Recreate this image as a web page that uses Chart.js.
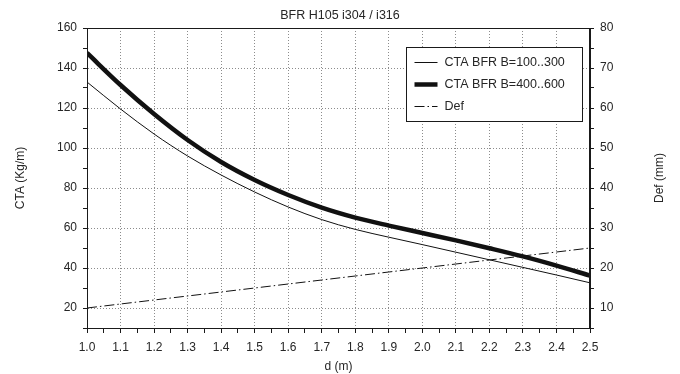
<!DOCTYPE html>
<html>
<head>
<meta charset="utf-8">
<script src="https://cdn.jsdelivr.net/npm/chart.js@4/dist/chart.umd.min.js"></script>
<style>
  html, body { margin: 0; padding: 0; background: #fff; }
  #wrap { width: 680px; height: 374px; position: relative; }
</style>
</head>
<body>
<div id="wrap"><canvas id="chart"></canvas></div>
<script>
// d (m) along the bottom
const dValues = [1.0, 1.1, 1.2, 1.3, 1.4, 1.5, 1.6, 1.7, 1.8, 1.9, 2.0, 2.1, 2.2, 2.3, 2.4, 2.5];
// CTA (Kg/m)
const ctaSmall = [133, 119.5, 107, 96, 86.5, 78, 70.5, 64.2, 59.3, 55.4, 51.7, 47.9, 44.1, 40.3, 36.5, 32.6];
const ctaLarge = [147.5, 131.5, 117, 104, 93, 84, 76.5, 70.2, 65.2, 61.2, 57.5, 53.8, 49.9, 45.8, 41.2, 36.2];
// Def (mm), right axis
const defValues = [10, 11, 12, 13, 14, 15, 16, 17, 18, 19, 20, 21, 22, 23, 24, 25];

const seriesLabels = ['CTA BFR B=100..300', 'CTA BFR B=400..600', 'Def'];
const chartTitle = 'BFR H105 i304 / i316';

const FONT = '"Liberation Sans", Arial, Helvetica, sans-serif';
const TXT = '#262626';
const GRID = '#8c8c8c';

const toPts = (ys) => ys.map((y, i) => ({ x: dValues[i], y: y }));

// box around the plot + legend inside the upper right corner
const framePlugin = {
    id: 'frame',
    afterDraw(chart) {
        const { ctx, chartArea: a } = chart;
        ctx.save();
        ctx.strokeStyle = '#1a1a1a';
        ctx.lineWidth = 1;
        ctx.strokeRect(Math.round(a.left) + 0.5, Math.round(a.top) + 0.5,
            Math.round(a.right - a.left) - 1, Math.round(a.bottom - a.top));

        // legend
        const bw = 176, bh = 74;
        const bx = Math.round(a.right - 184) + 0.5, by = Math.round(a.top + 19) + 0.5;
        ctx.fillStyle = '#fff';
        ctx.fillRect(bx, by, bw, bh);
        ctx.strokeRect(bx, by, bw, bh);
        ctx.font = '12.5px ' + FONT;
        ctx.textBaseline = 'middle';
        chart.data.datasets.forEach((ds, i) => {
            const y = by + 15 + i * 22;
            ctx.beginPath();
            ctx.setLineDash(ds.borderDash || []);
            ctx.lineWidth = ds.borderWidth;
            ctx.strokeStyle = ds.borderColor;
            ctx.moveTo(bx + 8, y);
            ctx.lineTo(bx + 31, y);
            ctx.stroke();
            ctx.setLineDash([]);
            ctx.fillStyle = TXT;
            ctx.fillText(ds.label, bx + 38, y);
        });

        // right axis title, reading bottom to top like the left one
        ctx.translate(660, (a.top + a.bottom) / 2);
        ctx.rotate(-Math.PI / 2);
        ctx.textAlign = 'center';
        ctx.fillStyle = TXT;
        ctx.font = '12px ' + FONT;
        ctx.fillText('Def (mm)', 0, 0);
        ctx.restore();
    }
};

const ctx = document.getElementById('chart').getContext('2d');
new Chart(ctx, {
    type: 'line',
    data: {
        datasets: [
            { label: seriesLabels[0], data: toPts(ctaSmall), yAxisID: 'y', borderColor: '#111', borderWidth: 1, pointRadius: 0, cubicInterpolationMode: 'monotone' },
            { label: seriesLabels[1], data: toPts(ctaLarge), yAxisID: 'y', borderColor: '#111', borderWidth: 4.5, pointRadius: 0, cubicInterpolationMode: 'monotone' },
            { label: seriesLabels[2], data: toPts(defValues), yAxisID: 'y2', borderColor: '#111', borderWidth: 1, borderDash: [10, 3, 1.5, 3], pointRadius: 0 }
        ]
    },
    options: {
        responsive: true,
        maintainAspectRatio: false,
        animation: false,
        layout: { padding: { top: 0, right: 0, bottom: 0, left: 0 } },
        plugins: {
            legend: { display: false },
            tooltip: { enabled: false },
            title: {
                display: true,
                text: chartTitle,
                color: TXT,
                font: { family: FONT, size: 12.5, weight: 'normal', lineHeight: 1.2 },
                padding: { top: 8, bottom: 5 }
            }
        },
        scales: {
            x: {
                type: 'linear',
                min: 1.0, max: 2.5,
                afterFit: (s) => { s.height = 46; },
                ticks: {
                    stepSize: 0.05, autoSkip: false, maxRotation: 0, padding: 7,
                    color: TXT, font: { family: FONT, size: 12 },
                    callback: (v) => Math.round(v * 100) % 10 === 0 ? v.toFixed(1) : ''
                },
                grid: {
                    color: (c) => {
                        const v = Math.round(c.tick.value * 100);
                        return (v % 10 === 0 && v > 100 && v < 250) ? GRID : 'transparent';
                    },
                    tickColor: '#1a1a1a', tickLength: 5, tickWidth: 1
                },
                border: { color: '#1a1a1a', dash: [1, 2] },
                title: { display: true, text: 'd (m)', color: TXT, font: { family: FONT, size: 12 }, padding: { top: 0, bottom: 0 } }
            },
            y: {
                position: 'left',
                min: 10, max: 160,
                afterFit: (s) => { s.width = 87; },
                ticks: {
                    stepSize: 10, autoSkip: false, padding: 6,
                    color: TXT, font: { family: FONT, size: 12 },
                    callback: (v) => v % 20 === 0 ? v : ''
                },
                grid: {
                    color: (c) => (c.tick.value % 20 === 0 && c.tick.value > 10 && c.tick.value < 160) ? GRID : 'transparent',
                    tickColor: '#1a1a1a', tickLength: 4, tickWidth: 1
                },
                border: { color: '#1a1a1a', dash: [1, 2] },
                title: { display: true, text: 'CTA (Kg/m)', color: TXT, font: { family: FONT, size: 12 }, padding: { top: 13, bottom: 0 } }
            },
            y2: {
                position: 'right',
                min: 5, max: 80,
                afterFit: (s) => { s.width = 90; },
                ticks: {
                    stepSize: 5, autoSkip: false, padding: 6,
                    color: TXT, font: { family: FONT, size: 12 },
                    callback: (v) => v % 10 === 0 ? v : ''
                },
                grid: { drawOnChartArea: false, tickColor: '#1a1a1a', tickLength: 4, tickWidth: 1 },
                border: { color: '#1a1a1a' }
            }
        }
    },
    plugins: [framePlugin]
});
</script>
</body>
</html>
